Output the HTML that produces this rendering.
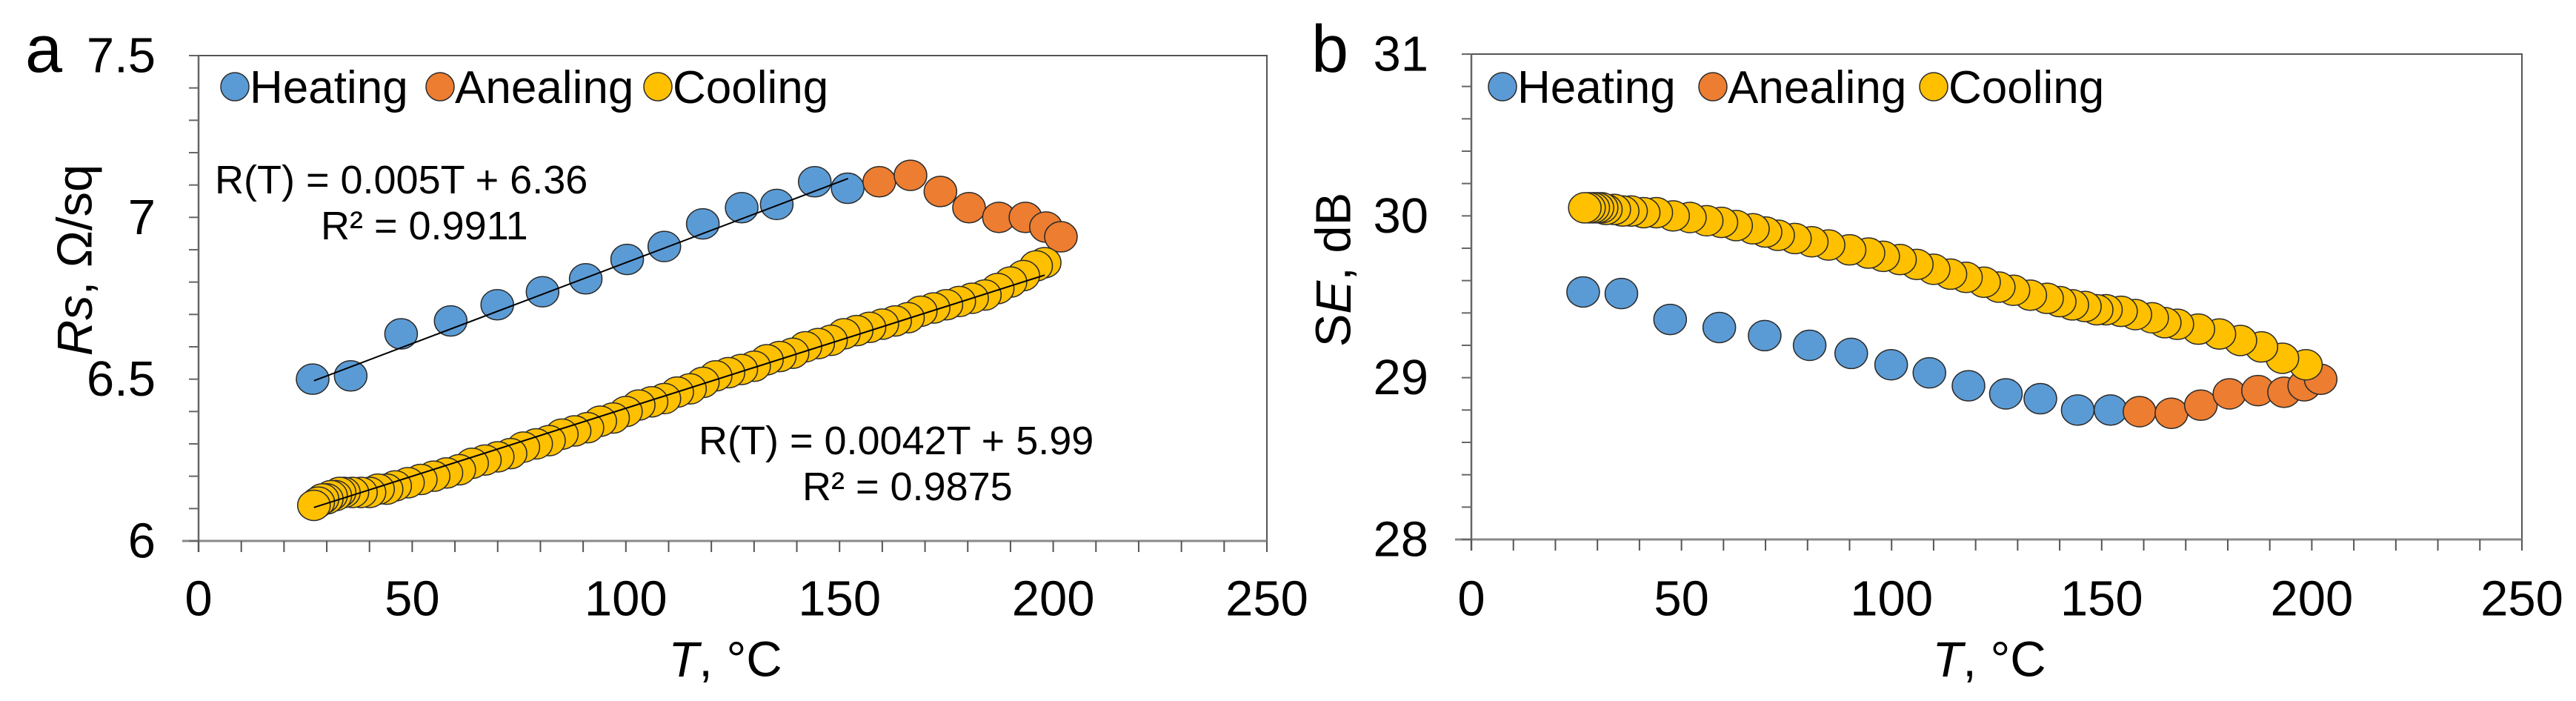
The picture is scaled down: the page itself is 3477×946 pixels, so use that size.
<!DOCTYPE html>
<html><head><meta charset="utf-8">
<style>
html,body{margin:0;padding:0;background:#fff;}
svg{display:block;font-family:"Liberation Sans",Arial,sans-serif;}
</style></head>
<body>
<svg id="fig" width="3477" height="946" viewBox="0 0 3477 946" xmlns="http://www.w3.org/2000/svg">
<rect x="0" y="0" width="3477" height="946" fill="#fff"/>
</svg>
<script>
// ---------- Panel a data (Rs, Ohm/sq) ----------
const aHeatT = [26.7,35.6,47.4,59.0,69.9,80.5,90.6,100.3,109.0,118.0,127.1,135.3,144.2,151.9];
const aHeatV = [6.50,6.51,6.64,6.68,6.73,6.77,6.81,6.87,6.91,6.98,7.03,7.04,7.11,7.09];
const aAnnT = [159.3,166.6,173.6,180.3,187.3,193.5,198.3,201.8];
const aAnnV = [7.11,7.13,7.08,7.03,7.00,7.00,6.97,6.94];
const aCoolT = [198,196,193,190,187,184,181,178,175,172,169,166,163,160,157,154,151,148,145,142,139,136,133,130,127,124,121,118,115,112,109,106,103,100,97,94,91,88,85,82,79,76,73,70,67,64,61,58,55,52,49,46,44,42,40,38,36,34,33,32,31,30,29,28,27];
const aCoolV = [6.86,6.85,6.82,6.80,6.78,6.76,6.75,6.74,6.73,6.72,6.71,6.69,6.68,6.67,6.66,6.65,6.64,6.62,6.61,6.60,6.58,6.57,6.56,6.54,6.53,6.52,6.51,6.49,6.47,6.46,6.44,6.43,6.42,6.40,6.38,6.37,6.35,6.34,6.33,6.31,6.30,6.29,6.27,6.26,6.25,6.24,6.22,6.21,6.20,6.19,6.18,6.17,6.16,6.16,6.15,6.15,6.15,6.15,6.15,6.14,6.14,6.13,6.13,6.12,6.11];
const aFitSlope = [0.005, 0.0042];
const aFitIntercept = [6.36, 5.99];
const aFitRange = [[27,152],[27,198]];
const aYTicks = ["6","6.5","7","7.5"];
const xTicks = ["0","50","100","150","200","250"];

// ---------- Panel b data (SE, dB) ----------
const bHeatT = [26.6,35.7,47.3,59.0,69.8,80.5,90.4,99.9,109.0,118.3,127.2,135.4,144.3,152.1];
const bHeatV = [29.53,29.52,29.36,29.31,29.26,29.20,29.15,29.08,29.03,28.95,28.90,28.87,28.80,28.80];
const bAnnT = [159.0,166.6,173.6,180.4,187.2,193.4,198.2,202.1];
const bAnnV = [28.79,28.78,28.83,28.90,28.92,28.91,28.95,28.99];
const bCoolT = [198.6,193,188,183,178,173,168,165,162,158,154.6,151,148.8,146,143,140,137,133,129,125.5,122,117.7,114,110,106,102,98,94.5,90,85,81,77,73,70,67,63,59.5,56,52,48,44,41,38,36,34,32,31,30,29,28,27];
const bCoolV = [29.08,29.12,29.19,29.23,29.27,29.30,29.33,29.34,29.37,29.39,29.41,29.42,29.42,29.44,29.45,29.47,29.49,29.51,29.54,29.56,29.59,29.62,29.64,29.67,29.70,29.73,29.75,29.77,29.79,29.82,29.84,29.86,29.88,29.90,29.92,29.94,29.96,29.97,29.99,30.00,30.02,30.02,30.03,30.03,30.04,30.04,30.05,30.05,30.05,30.05,30.05];
const bYTicks = ["28","29","30","31"];

const NS = "http://www.w3.org/2000/svg";
const svg = document.getElementById('fig');
function mk(tag, attrs, parent){
  const e = document.createElementNS(NS, tag);
  for (const k in attrs) e.setAttribute(k, attrs[k]);
  (parent||svg).appendChild(e);
  return e;
}

const COL = {heat:"#5B9BD5", ann:"#ED7D31", cool:"#FFC000"};

function drawPanel(P){
  const g = mk('g', {});
  
  
  const xs = v => P.L + (v - 0) / 250 * (P.R - P.L);
  const ys = v => P.B - (v - P.ymin) / (P.ymax - P.ymin) * (P.B - P.T);

  const box = mk('rect', {x:P.L, y:P.T, width:P.R-P.L, height:P.B-P.T, fill:"none", stroke:"#555", "stroke-width":2}, g);
  
  
  const xa = mk('line', {x1:P.L-22, y1:P.B, x2:P.R, y2:P.B, stroke:"#888", "stroke-width":3}, g);
  
  
  const ya = mk('line', {x1:P.L, y1:P.T, x2:P.L, y2:P.B+15, stroke:"#666", "stroke-width":2.5}, g);
  
  

  for (let v = 0; v <= 250; v += 10) {
    const t = mk('line', {x1:xs(v), y1:P.B, x2:xs(v), y2:P.B+15, stroke:"#555", "stroke-width":2}, g);
    
    
  }
  const n = Math.round((P.ymax - P.ymin) / P.ystep);
  for (let i = 0; i <= n; i++) {
    const v = P.ymin + i * P.ystep;
    const t = mk('line', {x1:P.L-13, y1:ys(v), x2:P.L, y2:ys(v), stroke:"#666", "stroke-width":2}, g);
    
    
  }
  xTicks.forEach(s => {
    const t = mk('text', {x:xs(parseFloat(s)), y:808, "font-size":67, "text-anchor":"middle", "dominant-baseline":"central", fill:"#000"}, g);
    t.textContent = s;
    
    
  });
  P.yTicks.forEach(s => {
    const t = mk('text', {x:P.L-58, y:ys(parseFloat(s)), "font-size":67, "text-anchor":"end", "dominant-baseline":"central", fill:"#000"}, g);
    t.textContent = s;
    
    
  });
  const xt = mk('text', {x:(P.L+P.R)/2 - 10, y:890, "font-size":67, "text-anchor":"middle", "dominant-baseline":"central"}, g);
  xt.innerHTML = '<tspan font-style="italic">T</tspan>, °C';
  
  
  const yt = mk('text', {x:0, y:0, "font-size":67, "text-anchor":"middle", "dominant-baseline":"central", transform:`translate(${P.ytx},${P.yty}) rotate(-90)`}, g);
  yt.innerHTML = P.ytitle;
  
  
  const pl = mk('text', {x:P.letterX, y:97, "font-size":90}, g);
  pl.textContent = P.letter;
  
  

  function series(T, V, col, name){
    const sg = mk('g', {}, g);
    
    
    T.forEach((t, i) => {
      const c = mk('ellipse', {cx:xs(t), cy:ys(V[i]), rx:22, ry:20.5, fill:col, stroke:"#2b2b2b", "stroke-width":1.5}, sg);
      
      
    });
  }
  series(P.heatT, P.heatV, COL.heat, 'heating-series');
  series(P.annT, P.annV, COL.ann, 'anealing-series');
  series(P.coolT, P.coolV, COL.cool, 'cooling-series');

  if (P.fits) {
    P.fits.forEach((f, i) => {
      const a = aFitRange[i][0], b = aFitRange[i][1];
      const ln = mk('line', {x1:xs(a), y1:ys(aFitSlope[i]*a + aFitIntercept[i]), x2:xs(b), y2:ys(aFitSlope[i]*b + aFitIntercept[i]), stroke:"#000", "stroke-width":2}, g);
      
      
    });
  }

  const lg = mk('g', {}, g);
  
  
  P.legend.forEach(it => {
    const c = mk('circle', {cx:it.x, cy:117, r:19, fill:it.col, stroke:"#2b2b2b", "stroke-width":1.5}, lg);
    
    
    const t = mk('text', {x:it.x+20, y:139, "font-size":62}, lg);
    t.textContent = it.label;
    
    
  });
  return g;
}

drawPanel({name:'chart-a', L:268, R:1710, T:75, B:730, ymin:6, ymax:7.5, ystep:0.1,
  yTicks:aYTicks, ytx:101, yty:351, ytitle:'<tspan font-style="italic">Rs</tspan>, Ω/sq',
  letter:'a', letterX:34,
  heatT:aHeatT, heatV:aHeatV, annT:aAnnT, annV:aAnnV, coolT:aCoolT, coolV:aCoolV,
  fits:['heating','cooling'],
  legend:[{x:317,col:COL.heat,label:'Heating'},{x:594,col:COL.ann,label:'Anealing'},{x:888,col:COL.cool,label:'Cooling'}]});

drawPanel({name:'chart-b', L:1986, R:3404, T:73, B:728, ymin:28, ymax:31, ystep:0.2,
  yTicks:bYTicks, ytx:1800, yty:364, ytitle:'S<tspan font-style="italic">E</tspan>, dB',
  letter:'b', letterX:1770,
  heatT:bHeatT, heatV:bHeatV, annT:bAnnT, annV:bAnnV, coolT:bCoolT, coolV:bCoolV,
  fits:null,
  legend:[{x:2028,col:COL.heat,label:'Heating'},{x:2312,col:COL.ann,label:'Anealing'},{x:2610,col:COL.cool,label:'Cooling'}]});

[
  {x:290, y:261, s:'R(T) = 0.005T + 6.36', n:'heating-fit-equation'},
  {x:433, y:323, s:'R² = 0.9911', n:'heating-fit-r2'},
  {x:943, y:613, s:'R(T) = 0.0042T + 5.99', n:'cooling-fit-equation'},
  {x:1083, y:675, s:'R² = 0.9875', n:'cooling-fit-r2'}
].forEach(o => {
  const t = mk('text', {x:o.x, y:o.y, "font-size":54, fill:"#000"});
  t.textContent = o.s;
  
  
});
</script>
</body></html>
